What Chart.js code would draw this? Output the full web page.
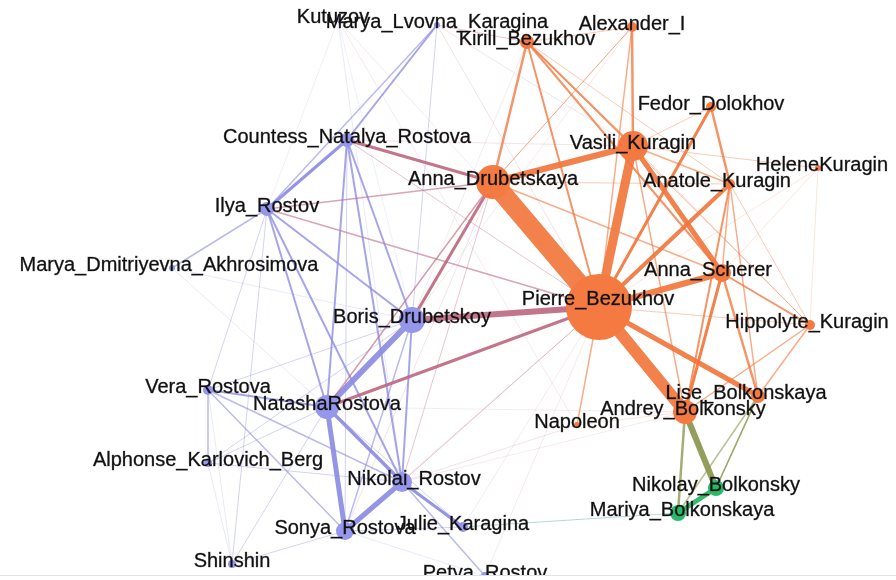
<!DOCTYPE html>
<html>
<head>
<meta charset="utf-8">
<script src="https://cdn.jsdelivr.net/npm/chart.js@4.4.1/dist/chart.umd.min.js"></script>
<style>
  html, body { margin: 0; padding: 0; background: #fff; }
  #wrap { width: 896px; height: 575px; border-bottom: 1px solid #e2e2e2; }
</style>
</head>
<body>
<div id="wrap"><canvas id="graph" width="896" height="575"></canvas></div>
<script>
// characters (layout position from the picture, node weight, community)
let nodeNames = ["Kutuzov","Marya_Lvovna_Karagina","Kirill_Bezukhov","Alexander_I","Fedor_Dolokhov",
  "Countess_Natalya_Rostova","Vasili_Kuragin","HeleneKuragin","Anna_Drubetskaya","Anatole_Kuragin",
  "Ilya_Rostov","Marya_Dmitriyevna_Akhrosimova","Anna_Scherer","Pierre_Bezukhov","Boris_Drubetskoy",
  "Hippolyte_Kuragin","Vera_Rostova","Lise_Bolkonskaya","NatashaRostova","Andrey_Bolkonsky",
  "Napoleon","Alphonse_Karlovich_Berg","Nikolai_Rostov","Nikolay_Bolkonsky","Mariya_Bolkonskaya",
  "Julie_Karagina","Sonya_Rostova","Shinshin","Petya_Rostov"]
let nodeX = [338,437,527,632,711,347,633,818,493,730,267,172,722,599,412,810,208,758,327,685,577,208,402,716,678,463,345,232,485]
let nodeY = [20,25,42,27,107,140,146,168,182,184,209,268,273,307,320,325,390,396,407,412,425,463,482,488,513,527,531,564,576]
let nodeWeight = [2,3,7,5,5,7,15,3,17,5,7,3,9,33,13,5,5,7,12,12,3,4,10,8,8,5,9,4,4]
let nodeGroup = ["R","R","B","B","B","R","B","B","B","B","R","R","B","B","R","B","R","B","R","B","B","R","R","K","K","R","R","R","R"]

// interactions: source, target, strength
let edgeFrom = [13,13,13,13,13,13,13,13,13,13,13,13,13,13,
  6,6,6,6,6,6,6,6,6,
  8,8,8,8,8,8,8,8,8,8,
  9,9,9,9,3,3,2,2,2,
  12,12,12,17,17,19,9,7,7,
  19,19,17,17,23,24,20,20,
  14,18,22,18,22,22,14,14,14,14,14,5,5,10,5,5,5,10,10,10,10,10,
  16,16,16,16,21,21,21,27,27,27,27,11,11,0,0,0,0,25,25,28,16,
  1,1,1,10,5,5,18,22,26,25,28,22,14,14,18,20]
let edgeTo = [8,19,6,12,9,17,4,2,14,18,20,15,3,7,
  8,12,3,2,9,7,4,15,19,
  2,14,5,10,18,12,22,26,3,9,
  4,19,17,12,2,8,12,15,9,
  15,17,19,15,23,15,15,15,12,
  23,24,23,24,24,25,19,22,
  18,26,26,22,25,28,5,22,26,10,1,10,1,1,18,22,26,18,22,11,16,27,
  18,21,22,26,18,22,14,26,18,16,21,18,14,22,14,13,10,26,18,26,14,
  13,6,2,13,13,6,8,13,13,13,13,19,2,3,19,0]
let edgeStrength = [19,12,9,6,4,5,3,2,6,3,1.5,1,1.5,0.8,
  6,5,2.5,2,1.5,1,1,1,1.5,
  2.5,3,3,1.5,1.5,1.5,1,0.8,1,1,
  2.5,2,1.5,1.5,1,1,2,1,1,
  2,2.5,3,1.5,1.5,1.5,1,0.8,0.8,
  6,2.5,1.5,1.5,5,1,0.8,0.8,
  6,5,5,3.5,3,1.5,2,2,1.5,2,1,3,2,1.5,2,2,1,2,2,1.5,1,1,
  2,1.5,1.5,1.5,1,1,1,1,1,0.8,0.8,0.8,0.8,0.8,0.6,0.6,0.6,1,1,0.8,1,
  0.8,0.8,1,1.5,1,0.8,0.8,1,0.8,0.6,0.6,0.6,0.6,0.6,0.6,0.6]

let groupColor = { R: [140,140,228], B: [242,118,60], K: [38,180,100] }
let nodeFill = { R: "rgb(150,150,236)", B: "rgb(244,122,66)", K: "rgb(40,186,106)" }

function edgeColor(a, b, w){
  let ga = nodeGroup[a], gb = nodeGroup[b]
  let c
  if(ga == gb){
    c = groupColor[ga]
  } else if((ga == "R" && gb == "B") || (ga == "B" && gb == "R")){
    c = [190,105,130]
  } else if((ga == "K" && gb == "B") || (ga == "B" && gb == "K")){
    c = [138,150,78]
  } else {
    c = [70,150,150]
  }
  let alpha = w >= 3 ? 0.92 : (w >= 2 ? 0.78 : (w >= 1.5 ? 0.6 : (w >= 1 ? 0.38 : 0.24)))
  return `rgba(${c[0]},${c[1]},${c[2]},${alpha})`
}

let datasets = []
datasets.push({
  label: "characters",
  order: 0,
  data: nodeX.map((x, i) => ({ x: x, y: nodeY[i] })),
  pointRadius: nodeWeight,
  pointHoverRadius: nodeWeight,
  backgroundColor: nodeGroup.map(g => nodeFill[g]),
  borderWidth: 0,
  showLine: false
})
edgeFrom.forEach((s, i) => {
  let t = edgeTo[i]
  datasets.push({
    label: nodeNames[s] + " - " + nodeNames[t],
    order: 1,
    data: [{ x: nodeX[s], y: nodeY[s] }, { x: nodeX[t], y: nodeY[t] }],
    showLine: true,
    pointRadius: 0,
    borderWidth: edgeStrength[i],
    borderColor: edgeColor(s, t, edgeStrength[i]),
    borderCapStyle: "round"
  })
})

// labels sit a little off some nodes, like in the picture
let labelShift = { 0: -5, 7: 4, 9: -13, 11: -3, 12: -14, 17: -12, 22: 12, 19: -2, 15: -3, 24: 4, 13: -1 }
let labelLift = { 13: -5 }

let nodeLabels = {
  id: "nodeLabels",
  afterDatasetsDraw(chart){
    let ctx = chart.ctx
    let meta = chart.getDatasetMeta(0)
    ctx.save()
    ctx.font = "20px 'Liberation Sans', Arial, sans-serif"
    ctx.fillStyle = "#111"
    ctx.strokeStyle = "rgba(17,17,17,0.6)"
    ctx.lineWidth = 0.5
    ctx.textAlign = "center"
    ctx.textBaseline = "middle"
    meta.data.forEach((pt, i) => {
      let dx = labelShift[i] || 0
      let dy = labelLift[i] || 0
      ctx.fillText(nodeNames[i], pt.x + dx, pt.y - 3 + dy)
      ctx.strokeText(nodeNames[i], pt.x + dx, pt.y - 3 + dy)
    })
    ctx.restore()
  }
}

new Chart(document.getElementById("graph"), {
  type: "scatter",
  data: { datasets: datasets },
  options: {
    responsive: false,
    animation: false,
    layout: { padding: 0, autoPadding: false },
    scales: {
      x: { type: "linear", min: 0, max: 896, display: false },
      y: { type: "linear", min: 0, max: 575, reverse: true, display: false }
    },
    plugins: {
      legend: { display: false },
      tooltip: { enabled: false }
    }
  },
  plugins: [nodeLabels]
})
</script>
</body>
</html>
